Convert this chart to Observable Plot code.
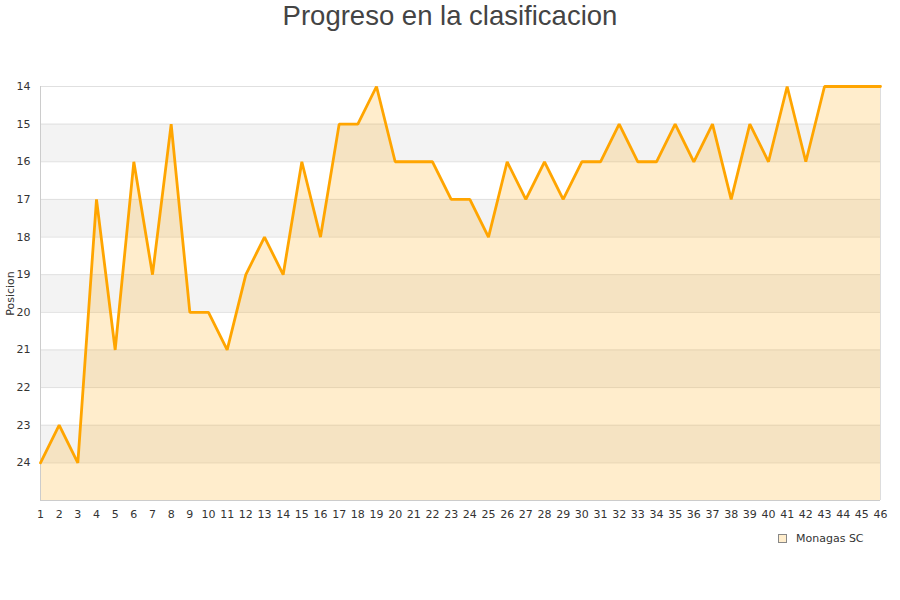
<!DOCTYPE html>
<html>
<head>
<meta charset="utf-8">
<script src="https://cdn.jsdelivr.net/npm/d3@7"></script>
<script src="https://cdn.jsdelivr.net/npm/@observablehq/plot@0.6"></script>
<style>
  html, body { margin: 0; padding: 0; background: #fff; }
  #wrap { position: relative; width: 900px; height: 600px; overflow: hidden; }
  #title { position: absolute; top: 0px; left: 0; width: 900px; text-align: center;
           font-family: "Liberation Sans", Arial, sans-serif; font-size: 27.5px; line-height: 32px; color: #444; }
  #chart { position: absolute; top: 0; left: 0; }
  #legend { position: absolute; left: 778px; top: 532px; font-family: "DejaVu Sans", sans-serif;
            font-size: 11px; color: #333; display: flex; align-items: center; }
  #legend .sw { width: 7px; height: 7px; background: #ffedcc; border: 1px solid #888; margin-right: 9px; }
</style>
</head>
<body>
<div id="wrap">
  <div id="chart"></div>
  <div id="title">Progreso en la clasificacion</div>
  <div id="legend"><span class="sw"></span><span>Monagas SC</span></div>
</div>
<script>
const seriesName = "Monagas SC";
const jornadas = d3.range(1, 47);
const posiciones = [24, 23, 24, 17, 21, 16, 19, 15, 20, 20, 21, 19, 18, 19, 16, 18, 15, 15, 14, 16,
                    16, 16, 17, 17, 18, 16, 17, 16, 17, 16, 16, 15, 16, 16, 15, 16, 15, 17, 15, 16,
                    14, 16, 14, 14, 14, 14];
const yTicks = [14, 15, 16, 17, 18, 19, 20, 21, 22, 23, 24];
const bandStarts = [15, 17, 19, 21, 23];
const gridLines = [14, 15, 16, 17, 18, 19, 20, 21, 22, 23, 24, 25];
const yBottom = 25;

const data = jornadas.map((j, i) => ({ j, p: posiciones[i] }));
const bands = bandStarts.map(b => ({ y1: b, y2: b + 1 }));

const chart = Plot.plot({
  width: 900,
  height: 600,
  marginTop: 86,
  marginBottom: 100,
  marginLeft: 40,
  marginRight: 20,
  style: { fontFamily: "DejaVu Sans, sans-serif", fontSize: "11px", color: "#444", background: "transparent" },
  x: { domain: [1, 46], ticks: jornadas, tickFormat: d => String(d), tickSize: 0, tickPadding: 10, label: null },
  y: { domain: [14, 25], reverse: true, ticks: yTicks, tickSize: 0, tickPadding: 10,
       label: "Posicion", labelAnchor: "center", labelArrow: "none", labelOffset: 34 },
  marks: [
    Plot.rect(bands, { y1: "y1", y2: "y2", fill: "#f3f3f3" }),
    Plot.ruleY(gridLines, { stroke: "#e0e0e0", strokeWidth: 1 }),
    Plot.areaY(data, { x: "j", y1: () => yBottom, y2: "p", fill: "#ffa500", fillOpacity: 0.2 }),
    Plot.ruleX([1], { stroke: "#ccc", strokeWidth: 1 }),
    Plot.ruleX([46], { stroke: "#ddd", strokeWidth: 1 }),
    Plot.ruleY([25], { stroke: "#ccc", strokeWidth: 1 }),
    Plot.line(data, { x: "j", y: "p", stroke: "#ffa500", strokeWidth: 2.8, strokeLinejoin: "miter" }),
    Plot.axisX({ ticks: jornadas, tickSize: 0, tickPadding: 10, fill: "#333" }),
    Plot.axisY({ ticks: yTicks, tickSize: 0, tickPadding: 10, fill: "#333", label: "Posicion",
                 labelAnchor: "center", labelArrow: "none", labelOffset: 34 })
  ]
});
document.getElementById("chart").appendChild(chart);
</script>
</body>
</html>
